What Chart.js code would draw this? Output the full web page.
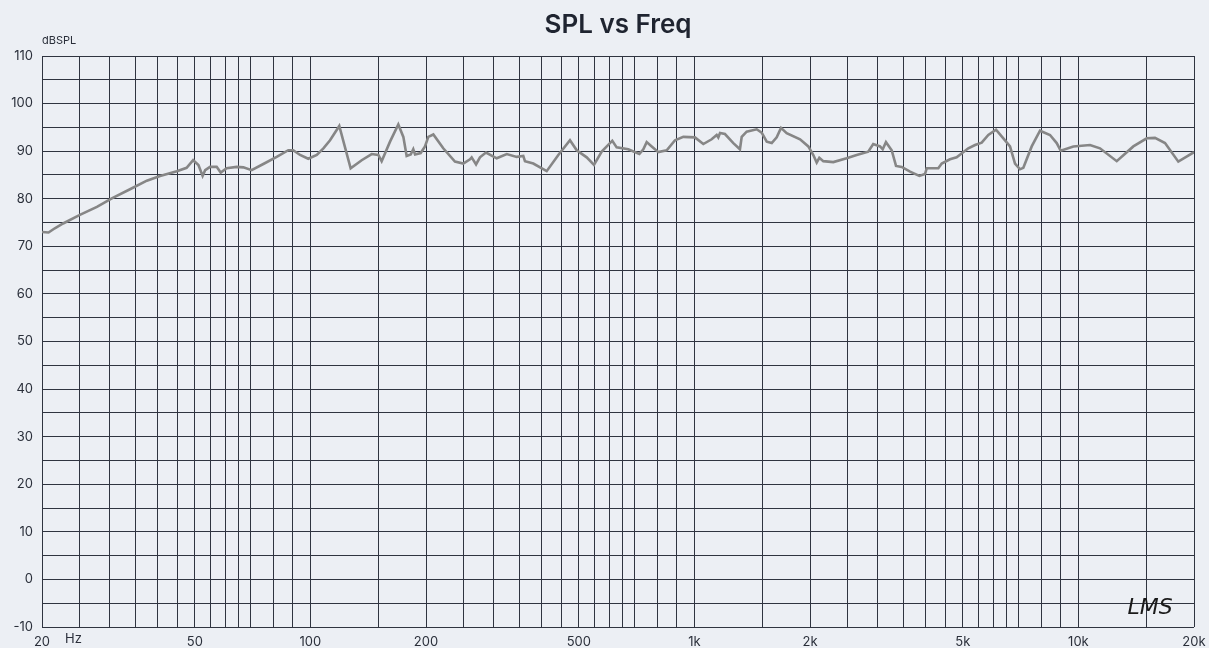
<!DOCTYPE html>
<html><head><meta charset="utf-8">
<script src="https://cdn.jsdelivr.net/npm/chart.js@4.4.1/dist/chart.umd.min.js"></script>
<style>
html,body{margin:0;padding:0;background:#eceff4;}
#wrap{width:1209px;height:648px;position:relative;}
</style></head><body>
<div id="wrap"><canvas id="c"></canvas></div>
<script>
// Frequencies (Hz) of the measured SPL curve
const freqs = [20,20.8,21.6,22.7,25.1,27.8,30.4,33.9,37.5,40.6,44.9,47.6,49.5,51.1,52.4,53.2,54.8,57.0,58.4,60.5,
  64.3,66.9,70.3,75.4,81.7,87.6,90.2,94.0,98.7,103.9,108.1,112.5,118.9,127.3,136.0,144.4,150.3,153.3,161.2,169.4,
  174.6,178.1,182.5,185.3,187.3,193.7,198.8,202.8,209.0,221.8,237.9,250.1,260.4,263.0,270.0,276.4,286.6,305.6,324.6,344.6,
  358.4,362.0,380.6,412.4,442.2,474.2,493.8,524.2,547.6,573.6,611.2,627.4,672.6,718.8,736.2,751.2,774.2,805.4,847,890.2,
  935.8,1003,1055,1109,1143,1154,1166,1201,1263,1314,1328,1368,1453,1497,1543,1590,1638,1681,1739,1884,
  1980,2040,2082,2115,2166,2300,2492,2646,2836,2922,3044,3093,3154,3264,3350,3466,3644,3853,3986,4027,
  4317,4406,4630,4819,5168,5380,5600,5826,6102,6376,6636,6838,7046,7188,7558,7944,8434,8780,8994,9702,
  10722,11382,12584,13900,15062,15830,16810,18204,20000];
// SPL values (dB)
const spl = [73.0,72.9,73.8,74.8,76.6,78.3,80.1,82.0,83.8,84.8,85.8,86.5,88.1,87.1,84.8,86.0,86.7,86.7,85.5,86.4,
  86.7,86.6,86.0,87.3,88.8,90.2,90.2,89.2,88.4,89.2,90.6,92.3,95.3,86.4,88.1,89.4,89.2,87.9,92.0,95.6,
  93.0,89.0,89.3,90.4,89.3,89.6,91.0,93.0,93.5,90.6,87.8,87.4,88.3,88.7,87.2,88.7,89.7,88.5,89.4,88.8,
  89.0,87.9,87.4,85.8,89.2,92.3,90.2,88.7,87.1,89.9,92.2,90.8,90.4,89.4,90.4,91.9,91.0,89.8,90.2,92.3,
  93.0,92.9,91.5,92.5,93.4,92.9,93.8,93.6,91.7,90.4,93.0,94.1,94.6,93.9,92.0,91.7,92.9,94.9,93.8,92.5,
  91.0,89.2,87.6,88.6,87.9,87.7,88.5,89.2,89.9,91.5,91.0,90.4,91.9,90.2,86.9,86.7,85.7,84.8,85.2,86.4,
  86.4,87.4,88.3,88.7,90.6,91.3,91.8,93.4,94.5,92.7,91.0,87.4,86.2,86.5,91.0,94.3,93.4,91.7,90.1,91.0,
  91.3,90.6,87.9,91.0,92.7,92.8,91.7,87.8,89.8];

// Axis definitions
const gridFreqs = [20,25,30,35,40,45,50,55,60,65,70,80,90,100,150,200,250,300,350,400,450,500,550,600,650,700,800,900,
  1000,1500,2000,2500,3000,3500,4000,4500,5000,5500,6000,6500,7000,8000,9000,10000,15000,20000];
const xLabelFreqs = [20,50,100,200,500,1000,2000,5000,10000,20000];
const xLabelTexts = ['20','50','100','200','500','1k','2k','5k','10k','20k'];
const yMin = -10, yMax = 110, yGridStep = 5, yLabelStep = 10;
const titleText = 'SPL vs Freq';
const yUnit = 'dBSPL';
const xUnit = 'Hz';
const logoText = 'LMS';

const points = freqs.map((f, i) => ({x: f, y: spl[i]}));
const GRID = '#2f3440';
const TEXT = '#2a2f3a';

const extras = {
  id: 'extras',
  afterDraw(chart) {
    const ctx = chart.ctx;
    const xs = chart.scales.x, ys = chart.scales.y;
    ctx.save();
    // title centred over the plot area
    ctx.fillStyle = '#1f2430';
    ctx.font = '600 26px Inter';
    ctx.textAlign = 'center';
    ctx.textBaseline = 'alphabetic';
    ctx.fillText(titleText, (xs.left + xs.right) / 2, 33);
    ctx.fillStyle = TEXT;
    ctx.font = '11px Inter';
    ctx.textAlign = 'left';
    ctx.fillText(yUnit, xs.left, ys.top - 12);
    ctx.font = '13px Inter';
    ctx.textBaseline = 'top';
    ctx.fillText(xUnit, xs.left + 23, ys.bottom + 6);
    ctx.fillStyle = '#1a1a1a';
    ctx.font = 'italic 22px "DejaVu Sans"';
    ctx.textAlign = 'center';
    ctx.textBaseline = 'middle';
    ctx.fillText(logoText, 1150, 608);
    ctx.restore();
  }
};

new Chart(document.getElementById('c'), {
  type: 'line',
  data: {
    datasets: [{
      data: points,
      borderColor: '#868686',
      borderWidth: 2.6,
      pointRadius: 0,
      fill: false,
      tension: 0
    }]
  },
  options: {
    responsive: true,
    maintainAspectRatio: false,
    animation: false,
    layout: {padding: {left: 0, right: 15, top: 56, bottom: 0}},
    plugins: {
      legend: {display: false},
      tooltip: {enabled: false},
      title: {display: false}
    },
    scales: {
      x: {
        type: 'logarithmic',
        min: 20, max: 20000,
        afterBuildTicks: (s) => { s.ticks = gridFreqs.map(v => ({value: v})); },
        afterFit: (s) => { s.height = 21; s.paddingLeft = 0; s.paddingRight = 0; },
        border: {display: false},
        grid: {color: GRID, lineWidth: 1, drawTicks: false},
        ticks: {
          autoSkip: false, maxRotation: 0, minRotation: 0, padding: 7,
          color: TEXT, font: {family: 'Inter', size: 13},
          callback: (v) => { const i = xLabelFreqs.indexOf(v); return i >= 0 ? xLabelTexts[i] : ''; }
        }
      },
      y: {
        type: 'linear',
        min: yMin, max: yMax,
        afterFit: (s) => { s.width = 42; s.paddingTop = 0; s.paddingBottom = 0; },
        border: {display: false},
        grid: {color: GRID, lineWidth: 1, drawTicks: false},
        ticks: {
          stepSize: yGridStep, padding: 9, autoSkip: false,
          color: TEXT, font: {family: 'Inter', size: 13},
          callback: (v) => (v % yLabelStep === 0 ? String(v) : '')
        }
      }
    }
  },
  plugins: [extras]
});
</script>
</body></html>
